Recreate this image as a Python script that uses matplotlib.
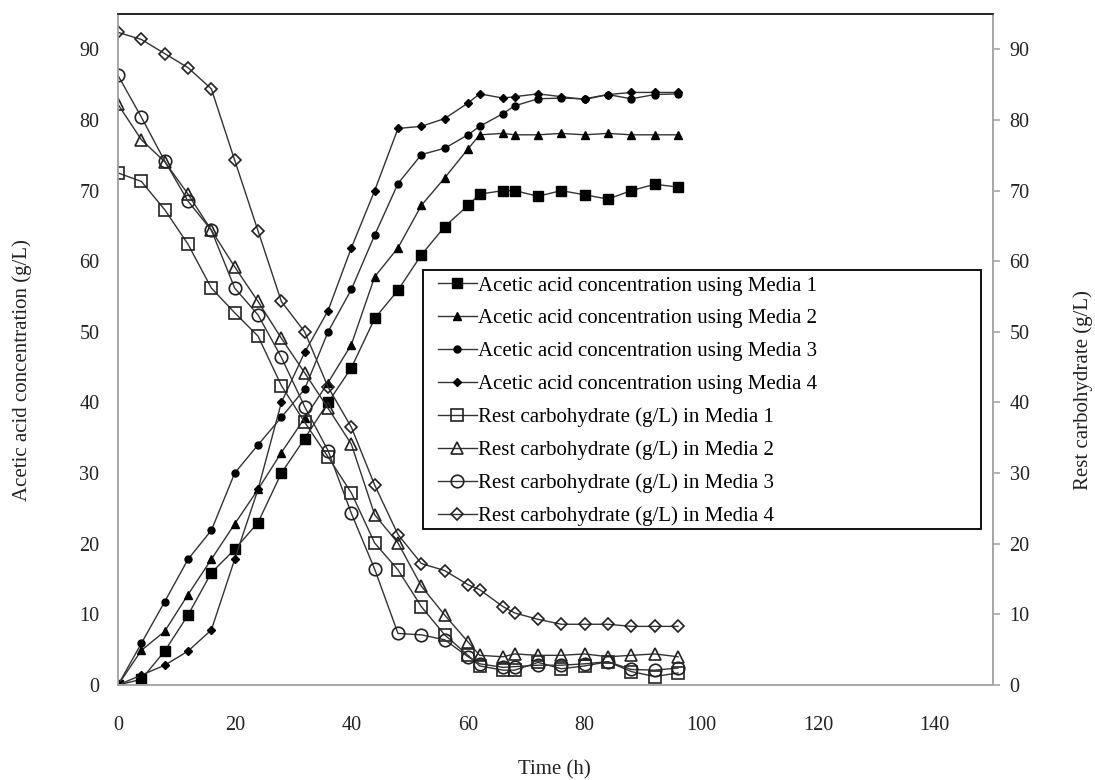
import numpy as np
import matplotlib
matplotlib.use("Agg")
import matplotlib.pyplot as plt
from matplotlib.patches import Rectangle

plt.rcParams["font.family"] = ["Liberation Serif", "DejaVu Serif"]
plt.rcParams["font.size"] = 15

# sampling times (h)
time_h = [0, 4, 8, 12, 16, 20, 24, 28, 32, 36, 40, 44, 48, 52, 56, 60,
          62, 66, 68, 72, 76, 80, 84, 88, 92, 96]

# acetic acid (g/L)
acid_m1 = [0, 0.8, 4.8, 9.9, 15.9, 19.2, 23.0, 30.0, 34.9, 40.0, 44.9, 51.9, 55.9,
           60.9, 64.9, 67.9, 69.5, 70.0, 70.0, 69.2, 70.0, 69.4, 68.8, 70.0, 70.9, 70.5]
acid_m2 = [0, 4.9, 7.6, 12.8, 17.8, 22.8, 27.7, 32.9, 37.8, 42.8, 48.2, 57.8, 61.9,
           67.9, 71.8, 75.9, 77.9, 78.1, 77.9, 77.9, 78.1, 77.9, 78.1, 77.9, 77.9, 77.9]
acid_m3 = [0, 5.9, 11.8, 17.8, 21.9, 30.0, 34.0, 37.9, 41.9, 50.0, 56.0, 63.7, 71.0,
           75.1, 76.0, 77.9, 79.1, 80.9, 82.0, 83.0, 83.1, 83.0, 83.6, 83.0, 83.6, 83.7]
acid_m4 = [0, 1.4, 2.8, 4.8, 7.8, 17.8, 27.7, 40.0, 47.1, 53.0, 61.9, 70.0, 78.8,
           79.1, 80.2, 82.4, 83.7, 83.1, 83.3, 83.7, 83.3, 82.9, 83.6, 83.9, 83.9, 83.9]

# rest carbohydrate (g/L)
carb_m1 = [72.5, 71.3, 67.3, 62.4, 56.2, 52.7, 49.4, 42.4, 37.2, 32.3, 27.2, 20.1, 16.3,
           11.1, 7.1, 4.2, 2.7, 2.1, 2.1, 3.2, 2.3, 2.7, 3.3, 1.9, 1.2, 1.7]
carb_m2 = [82.2, 77.2, 74.1, 69.5, 64.4, 59.2, 54.3, 49.1, 44.2, 39.2, 34.1, 24.1, 20.1,
           14.0, 9.9, 6.1, 4.2, 4.0, 4.4, 4.2, 4.2, 4.4, 4.0, 4.2, 4.4, 4.0]
carb_m3 = [86.3, 80.4, 74.2, 68.5, 64.4, 56.2, 52.4, 46.4, 39.4, 33.2, 24.3, 16.4, 7.3,
           7.1, 6.4, 4.0, 3.0, 2.5, 2.6, 2.8, 2.8, 3.0, 3.3, 2.2, 2.1, 2.4]
carb_m4 = [92.4, 91.4, 89.4, 87.4, 84.4, 74.3, 64.3, 54.3, 50.0, 42.2, 36.5, 28.3, 21.3,
           17.2, 16.2, 14.2, 13.5, 11.1, 10.2, 9.3, 8.6, 8.6, 8.6, 8.3, 8.3, 8.3]

acid_labels = ["Acetic acid concentration using Media %d" % i for i in range(1, 5)]
carb_labels = ["Rest carbohydrate (g/L) in Media %d" % i for i in range(1, 5)]

line_c = "#333333"
axis_c = "#a6a6a6"
text_c = "#222222"

fig = plt.figure(figsize=(10.95, 7.8), dpi=100)
ax = fig.add_axes([0.1078, 0.1218, 0.799, 0.8602])
ax2 = ax.twinx()

handles = []
acid_styles = [("s", 6.5), ("^", 6), ("o", 5), ("D", 4.5)]
for y, lab, (m, ms) in zip([acid_m1, acid_m2, acid_m3, acid_m4], acid_labels, acid_styles):
    h, = ax.plot(time_h, y, color=line_c, lw=1.0, marker=m, ms=ms,
                 mfc="black", mec="black", label=lab)
    handles.append(h)

carb_styles = [("s", 9), ("^", 9), ("o", 9), ("D", 6.5)]
for y, lab, (m, ms) in zip([carb_m1, carb_m2, carb_m3, carb_m4], carb_labels, carb_styles):
    h, = ax2.plot(time_h, y, color=line_c, lw=1.0, marker=m, ms=ms,
                  mfc="none", mec=text_c, mew=1.2, label=lab)
    handles.append(h)

for a in (ax, ax2):
    a.set_ylim(0, 95)
    a.set_yticks(np.arange(0, 91, 10))
    a.set_xlim(0, 150)
    for s in ("left", "right", "bottom"):
        a.spines[s].set_color(axis_c)
        a.spines[s].set_linewidth(1.2)
    a.spines["top"].set_color(text_c)
    a.spines["top"].set_linewidth(1.2)

ax.set_xticks(np.arange(0, 141, 20))
ax.tick_params(axis="x", length=0, pad=22, labelsize=14.5, colors=text_c)
ax.tick_params(axis="y", length=0, pad=13.5, labelsize=14.5, colors=text_c)
ax2.tick_params(axis="y", length=5, width=1.2, color=axis_c, pad=7,
                labelsize=14.5, labelcolor=text_c)

# axis titles placed by hand (axes fraction coordinates)
ax.set_xlabel("Time (h)", color=text_c, va="center")
ax.xaxis.set_label_coords(0.4983, -0.1267)
ax.set_ylabel("Acetic acid concentration (g/L)", color=text_c, va="center")
ax.yaxis.set_label_coords(-0.1097, 0.4694)
ax2.set_ylabel("Rest carbohydrate (g/L)", color=text_c)
ax2.yaxis.label.set_va("center")
ax2.yaxis.set_label_coords(1.1029, 0.4396)

leg = fig.legend(handles=handles, loc="upper left",
                 bbox_to_anchor=(0.4, 0.6462), borderaxespad=0, borderpad=0,
                 frameon=False, fontsize=15, handlelength=1.87,
                 handletextpad=0.05, labelspacing=0.635)
# legend border
fig.patches.append(Rectangle((423 / 1095, 1 - 529 / 780), 558 / 1095, 259 / 780,
                             transform=fig.transFigure, fill=False,
                             edgecolor="#111111", lw=1.4, zorder=5))

fig.savefig("out.png", dpi=100)
